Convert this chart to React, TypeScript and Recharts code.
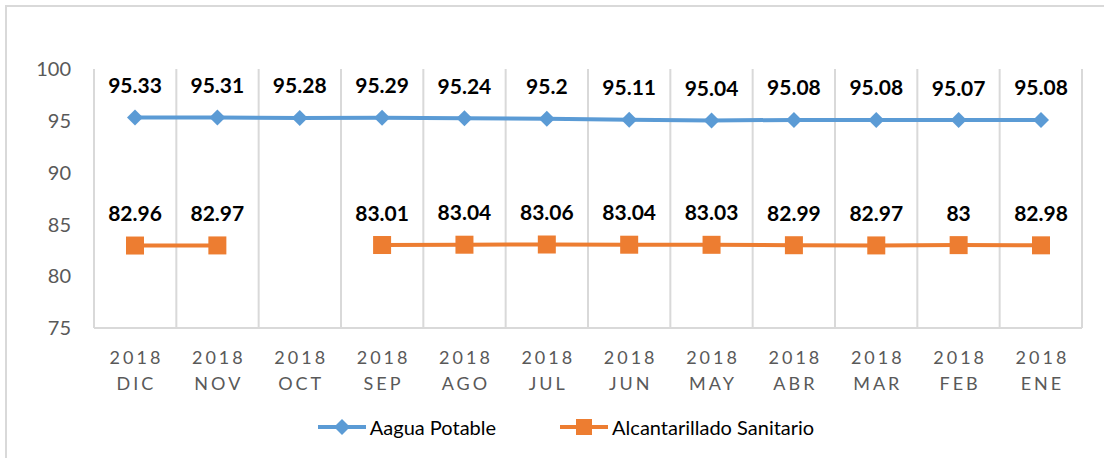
import { LineChart, Line, XAxis, YAxis, CartesianGrid, Legend, LabelList } from 'recharts'

const months = ['DIC', 'NOV', 'OCT', 'SEP', 'AGO', 'JUL', 'JUN', 'MAY', 'ABR', 'MAR', 'FEB', 'ENE']
const years = ['2018', '2018', '2018', '2018', '2018', '2018', '2018', '2018', '2018', '2018', '2018', '2018']
const agua = [95.33, 95.31, 95.28, 95.29, 95.24, 95.2, 95.11, 95.04, 95.08, 95.08, 95.07, 95.08]
const alcantarillado = [82.96, 82.97, null, 83.01, 83.04, 83.06, 83.04, 83.03, 82.99, 82.97, 83, 82.98]
const yTicks = [75, 80, 85, 90, 95, 100]

const BLUE = '#5B9BD5'
const ORANGE = '#ED7D31'
const GRID = '#D9D9D9'
const TEXT = '#595959'
const FONT = 'Lato, "Open Sans", sans-serif'

const data = months.map((m, i) => ({
  cat: `${years[i]} ${m}`,
  agua: agua[i],
  alcantarillado: alcantarillado[i],
}))

const Diamond = (props: any) => {
  const { cx, cy, index } = props
  if (cx == null || cy == null) return <g key={index} />
  return <polygon key={index} points={`${cx},${cy - 8} ${cx + 8},${cy} ${cx},${cy + 8} ${cx - 8},${cy}`} fill={BLUE} />
}

const Square = (props: any) => {
  const { cx, cy, index, value } = props
  if (cx == null || cy == null || value == null) return <g key={index} />
  return <rect key={index} x={cx - 9} y={cy - 9} width={18} height={18} fill={ORANGE} />
}

const PointLabel = (props: any) => {
  const { x, y, value } = props
  if (value == null || x == null || y == null) return null
  return (
    <text x={x} y={y - 33} textAnchor="middle" dominantBaseline="central"
      fontFamily={FONT} fontWeight={700} fontSize={21} fill="#000">
      {value}
    </text>
  )
}

const CatTick = (props: any) => {
  const { x, y, payload } = props
  const [yr, mo] = String(payload.value).split(' ')
  return (
    <g>
      <text x={x + 1.5} y={y + 29} textAnchor="middle" dominantBaseline="central"
        fontFamily={FONT} fontSize={18} letterSpacing={3} fill={TEXT}>{yr}</text>
      <text x={x + 1.5} y={y + 55} textAnchor="middle" dominantBaseline="central"
        fontFamily={FONT} fontSize={18} letterSpacing={3} fill={TEXT}>{mo}</text>
    </g>
  )
}

const LegendContent = () => (
  <div style={{ height: 30, display: 'flex', justifyContent: 'center', alignItems: 'center', gap: 64,
    paddingLeft: 50, fontFamily: FONT, fontSize: 20, color: '#000' }}>
    <div style={{ display: 'flex', alignItems: 'center', gap: 4 }}>
      <svg width={48} height={18}>
        <line x1={0} y1={9} x2={48} y2={9} stroke={BLUE} strokeWidth={4} />
        <polygon points="24,1 32,9 24,17 16,9" fill={BLUE} />
      </svg>
      <span>Aagua Potable</span>
    </div>
    <div style={{ display: 'flex', alignItems: 'center', gap: 4 }}>
      <svg width={48} height={18}>
        <line x1={0} y1={9} x2={48} y2={9} stroke={ORANGE} strokeWidth={4} />
        <rect x={16} y={1} width={16} height={16} fill={ORANGE} />
      </svg>
      <span>Alcantarillado Sanitario</span>
    </div>
  </div>
)

export default function App() {
  return (
    <div style={{ position: 'absolute', left: 0, top: 0, width: 1104, height: 458, overflow: 'hidden', background: '#fff' }}>
      <LineChart width={1104} height={458} data={data} margin={{ top: 69, right: 22, left: 0, bottom: 16 }}>
        <CartesianGrid
          horizontal={false}
          stroke={GRID}
          strokeWidth={2}
          verticalCoordinatesGenerator={({ offset }: any) =>
            Array.from({ length: months.length + 1 }, (_, i) => offset.left + (i * offset.width) / months.length)
          }
        />
        <XAxis dataKey="cat" scale="point" padding={{ left: 41, right: 41 }} interval={0}
          height={84} tickLine={false} tickSize={0} tickMargin={0}
          axisLine={{ stroke: GRID, strokeWidth: 2 }} tick={<CatTick />} />
        <YAxis domain={[75, 100]} ticks={yTicks} width={94} axisLine={false} tickLine={false}
          tickSize={0} tickMargin={23}
          tick={{ fontFamily: FONT, fontSize: 20, fill: TEXT }} />
        <Legend verticalAlign="bottom" content={<LegendContent />} />
        <Line dataKey="agua" name="Aagua Potable" stroke={BLUE} strokeWidth={4}
          dot={<Diamond />} activeDot={false} isAnimationActive={false}>
          <LabelList dataKey="agua" content={<PointLabel />} />
        </Line>
        <Line dataKey="alcantarillado" name="Alcantarillado Sanitario" stroke={ORANGE} strokeWidth={4}
          dot={<Square />} activeDot={false} isAnimationActive={false}>
          <LabelList dataKey="alcantarillado" content={<PointLabel />} />
        </Line>
      </LineChart>
      <div style={{ position: 'absolute', left: 5, top: 5, width: 1120, height: 480,
        borderLeft: `2px solid ${GRID}`, borderTop: `2px solid ${GRID}`, pointerEvents: 'none' }} />
    </div>
  )
}
